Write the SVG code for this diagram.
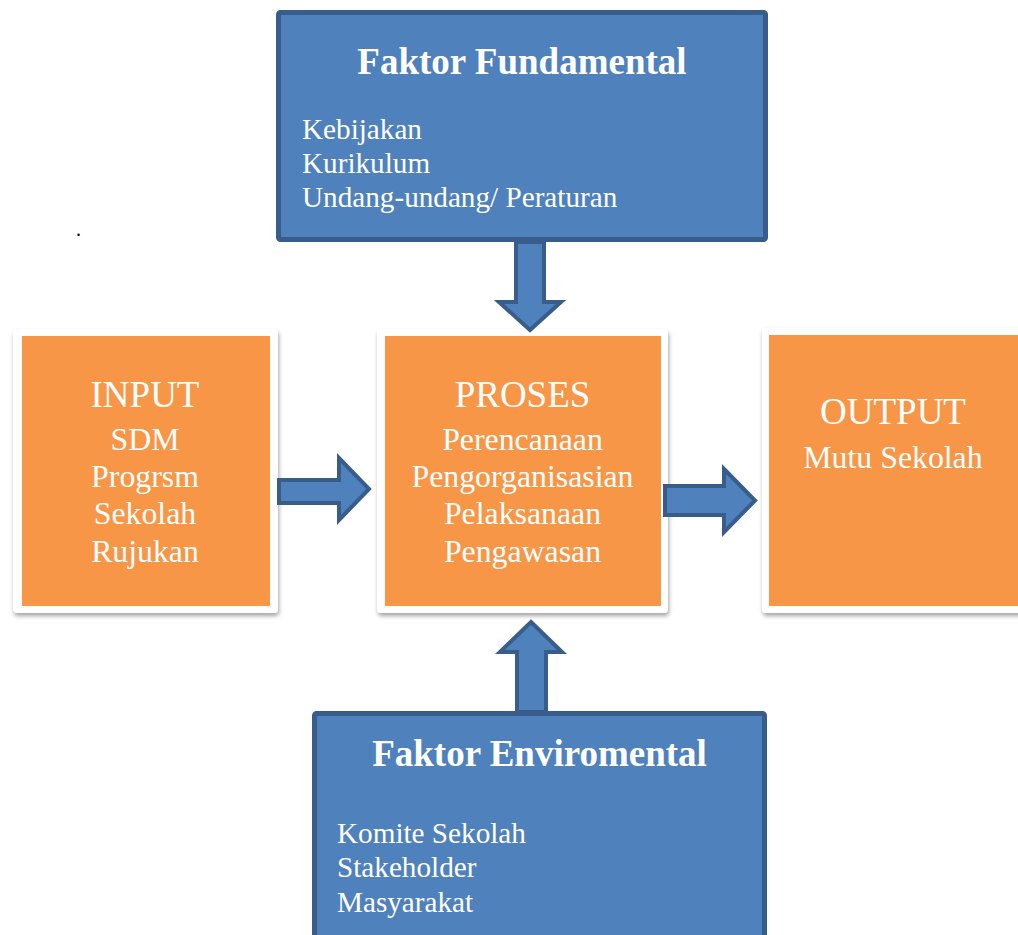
<svg xmlns="http://www.w3.org/2000/svg" width="1018" height="935" viewBox="0 0 1018 935">
  <defs>
    <filter id="shadow" x="-10%" y="-10%" width="130%" height="130%">
      <feDropShadow dx="1" dy="3" stdDeviation="2" flood-color="#000" flood-opacity="0.35"/>
    </filter>
  </defs>
  <style>
    .factor { fill: #4f81bd; stroke: #385d8a; stroke-width: 5; }
    .frame { fill: #ffffff; filter: url(#shadow); }
    .stage { fill: #f79646; }
    .arrow { fill: #4f81bd; stroke: #385d8a; stroke-width: 4; stroke-linejoin: miter; }
    text { font-family: "Liberation Serif", "Times New Roman", serif; fill: #ffffff; }
    .title { font-size: 37px; font-weight: bold; text-anchor: middle; }
    .head { font-size: 37px; text-anchor: middle; }
    .item { font-size: 31.8px; text-anchor: middle; }
    .list { font-size: 29.2px; }
  </style>

  <rect width="1018" height="935" fill="#ffffff"/>
  <text x="76" y="236" style="font-size:20px; fill:#000000">.</text>

  <!-- Factor: fundamental -->
  <g id="faktor-fundamental">
    <rect class="factor" x="278.5" y="12.5" width="487" height="227" rx="2"/>
    <text class="title" x="522" y="74">Faktor Fundamental</text>
    <text class="list" x="302" y="139">Kebijakan</text>
    <text class="list" x="302" y="173">Kurikulum</text>
    <text class="list" x="302" y="207">Undang-undang/ Peraturan</text>
  </g>

  <!-- Input stage -->
  <g id="input">
    <rect class="frame" x="13" y="329" width="265" height="284" rx="4"/>
    <rect class="stage" x="22" y="336" width="248" height="270"/>
    <text class="head" x="145" y="407">INPUT</text>
    <text class="item" x="145" y="450">SDM</text>
    <text class="item" x="145" y="487">Progrsm</text>
    <text class="item" x="145" y="524">Sekolah</text>
    <text class="item" x="145" y="562">Rujukan</text>
  </g>

  <!-- Process stage -->
  <g id="proses">
    <rect class="frame" x="377" y="329" width="291" height="284" rx="4"/>
    <rect class="stage" x="385" y="336" width="276" height="270"/>
    <text class="head" x="522.5" y="407">PROSES</text>
    <text class="item" x="522.5" y="450">Perencanaan</text>
    <text class="item" x="522.5" y="487">Pengorganisasian</text>
    <text class="item" x="522.5" y="524">Pelaksanaan</text>
    <text class="item" x="522.5" y="562">Pengawasan</text>
  </g>

  <!-- Output stage -->
  <g id="output">
    <rect class="frame" x="762" y="328" width="270" height="285" rx="4"/>
    <rect class="stage" x="769" y="335" width="260" height="271"/>
    <text class="head" x="893" y="424">OUTPUT</text>
    <text class="item" x="893" y="468">Mutu Sekolah</text>
  </g>

  <!-- Factor: environmental -->
  <g id="faktor-enviromental">
    <rect class="factor" x="314.5" y="713.5" width="450" height="240" rx="2"/>
    <text class="title" x="539.5" y="766">Faktor Enviromental</text>
    <text class="list" x="337" y="843">Komite Sekolah</text>
    <text class="list" x="337" y="877">Stakeholder</text>
    <text class="list" x="337" y="912">Masyarakat</text>
  </g>

  <!-- Block arrows -->
  <g id="connectors">
    <polygon class="arrow" points="516,242 544,242 544,302 561,302 530,330 499,302 516,302"/>
    <polygon class="arrow" points="279,480 339,480 339,458 369,489 339,520 339,503 279,503"/>
    <polygon class="arrow" points="665,486 724,486 724,469 755,500.5 724,532 724,515 665,515"/>
    <polygon class="arrow" points="531,622 562,652 546,652 546,712 517,712 517,652 500,652"/>
  </g>
</svg>
